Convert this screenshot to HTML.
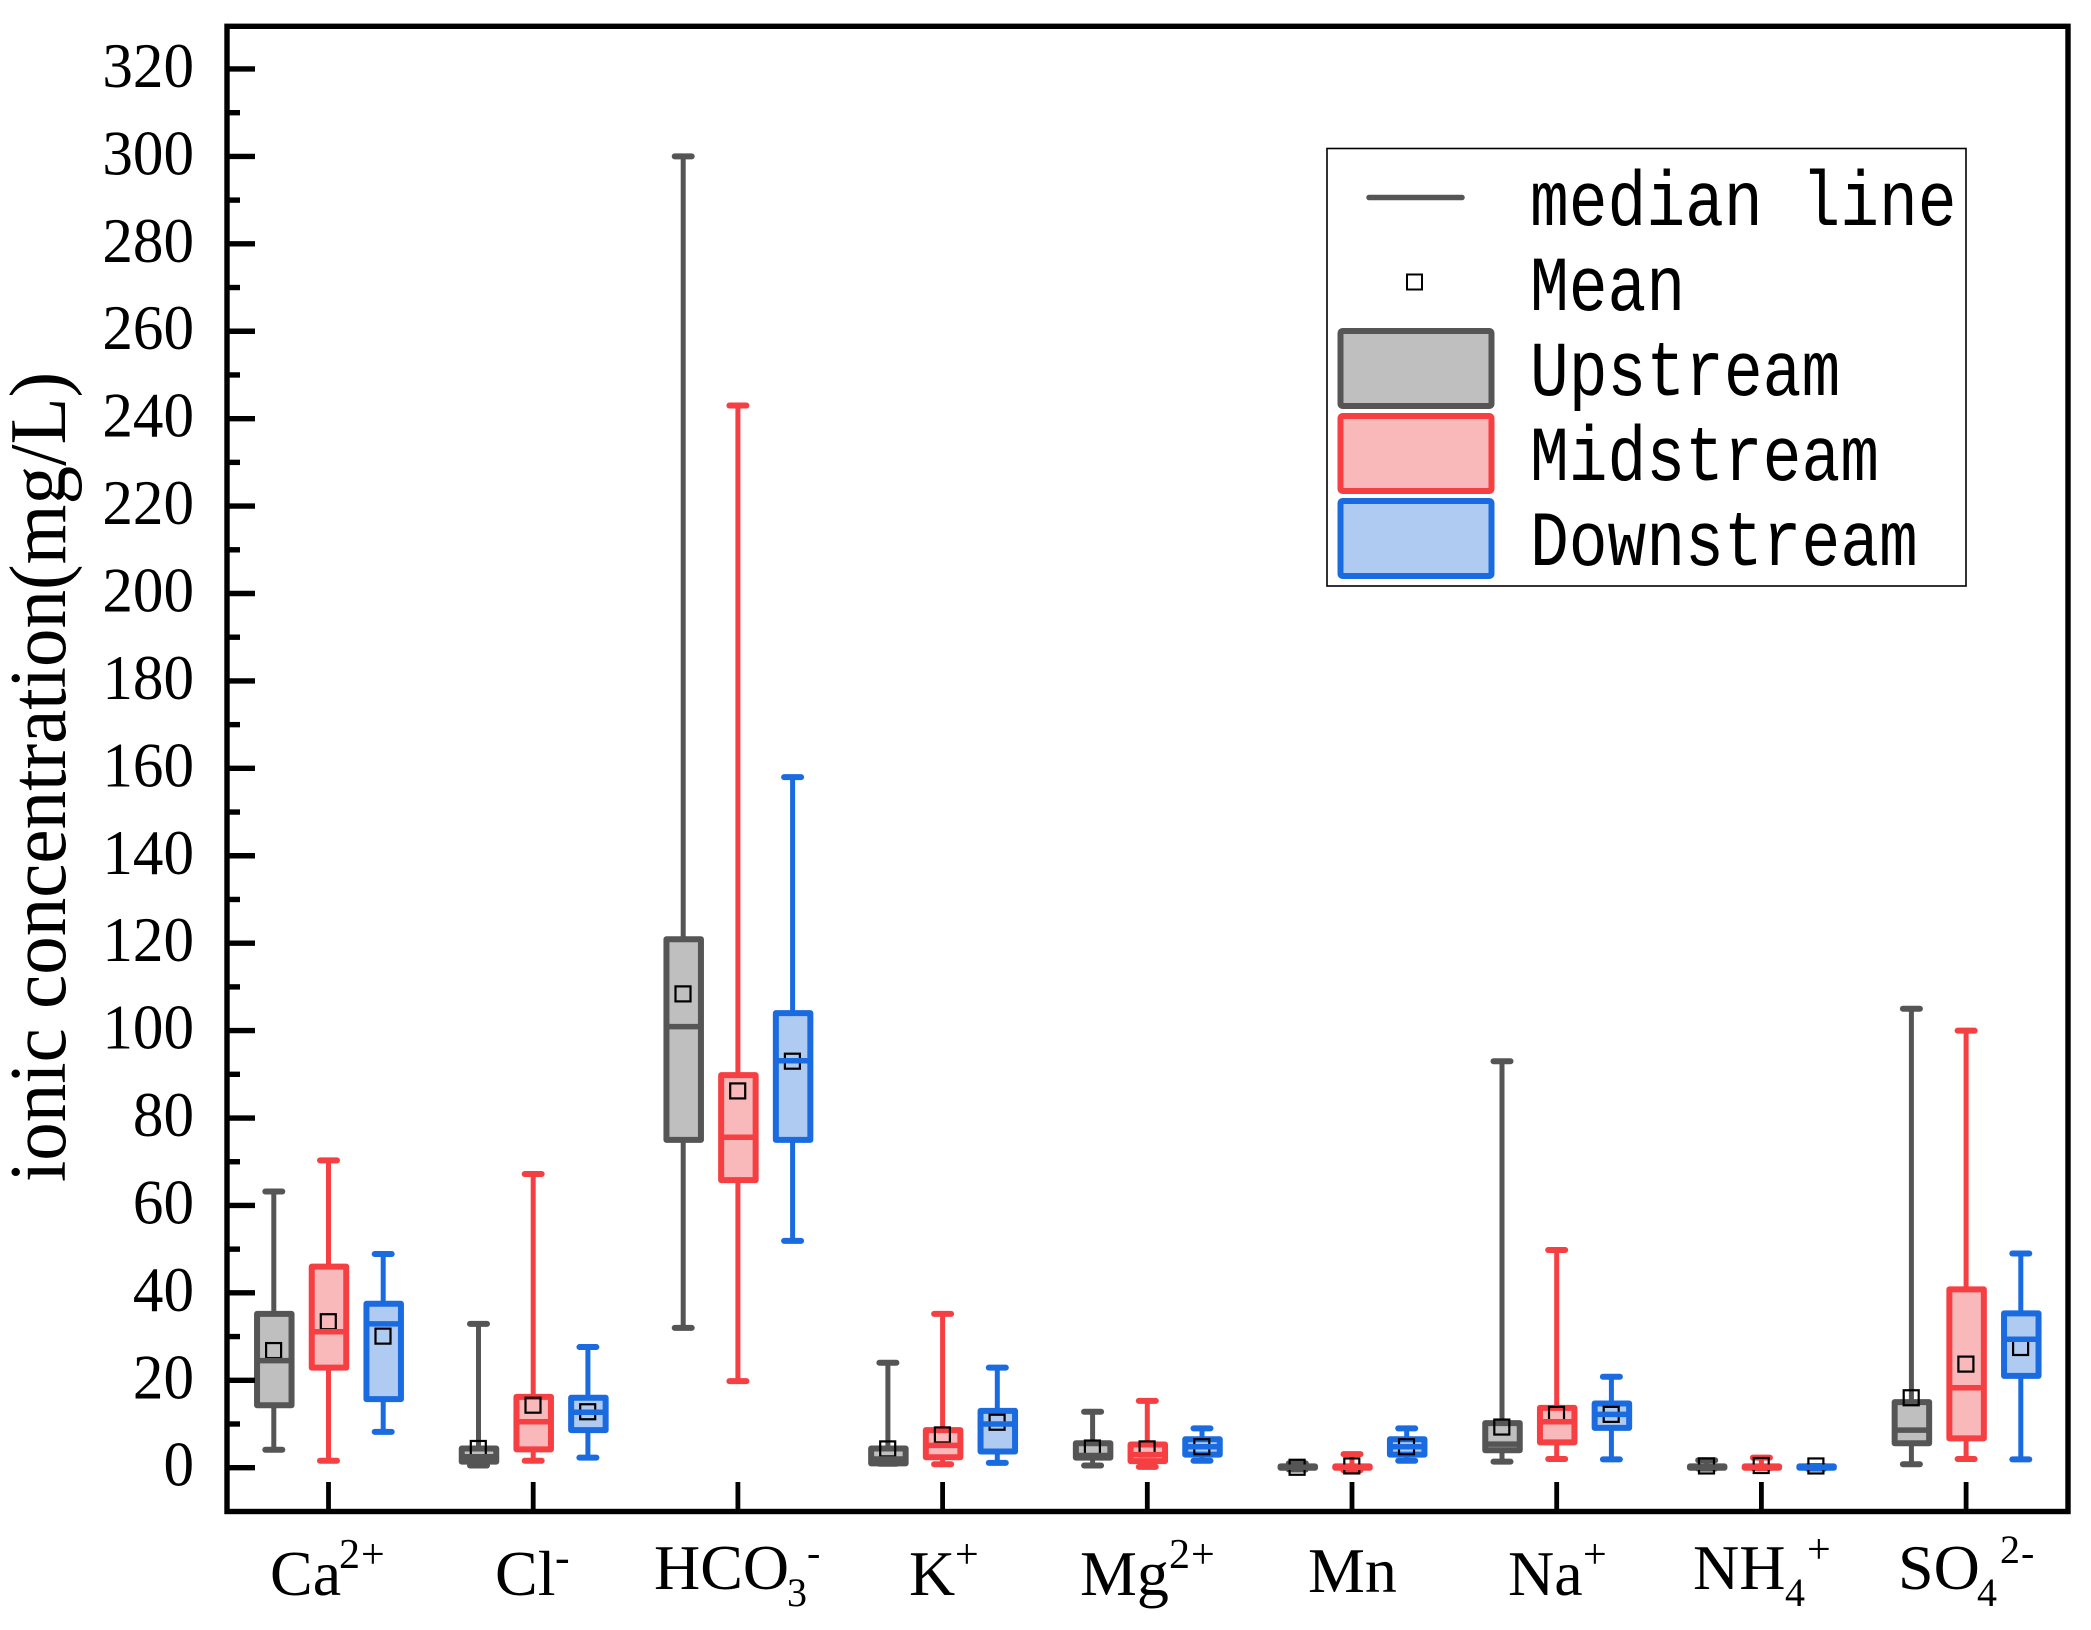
<!DOCTYPE html>
<html lang="en">
<head>
<meta charset="utf-8">
<title>Ionic concentration box plot</title>
<style>
html,body{margin:0;padding:0;background:#fff;}
svg{display:block;}
text{fill:#000;}
.serif{font-family:"Liberation Serif","Noto Serif CJK SC",serif;}
.mono{font-family:"Liberation Mono","DejaVu Sans Mono",monospace;font-size:64px;}
</style>
</head>
<body>
<svg id="chart" xmlns="http://www.w3.org/2000/svg" width="2091" height="1630" viewBox="0 0 2091 1630">
  <rect x="0" y="0" width="2091" height="1630" fill="#fff"/>
  <g id="marks"></g>
  <g id="axes"></g>
  <rect x="227" y="26.3" width="1841" height="1485.2" fill="none" stroke="#000" stroke-width="5.4"/>
  <text class="serif" font-size="77" text-anchor="middle" transform="translate(65,777) rotate(-90) scale(1,1.05)">ionic concentration(mg/L)</text>

  <g class="serif" font-size="64">
    <text><tspan x="270" y="1595">Ca</tspan><tspan x="339" y="1568" font-size="42">2</tspan><tspan x="361" y="1568" font-size="42">+</tspan></text>
    <text><tspan x="495" y="1595">Cl</tspan><tspan x="555" y="1572" font-size="44">-</tspan></text>
    <text><tspan x="654" y="1589">HCO</tspan><tspan x="787" y="1606" font-size="40">3</tspan><tspan x="807" y="1566" font-size="40">-</tspan></text>
    <text><tspan x="909" y="1595">K</tspan><tspan x="955" y="1568" font-size="42">+</tspan></text>
    <text><tspan x="1080" y="1595">Mg</tspan><tspan x="1169" y="1568" font-size="42">2</tspan><tspan x="1191" y="1568" font-size="42">+</tspan></text>
    <text><tspan x="1308" y="1592">Mn</tspan></text>
    <text><tspan x="1508" y="1595">Na</tspan><tspan x="1583" y="1568" font-size="42">+</tspan></text>
    <text><tspan x="1693" y="1589">NH</tspan><tspan x="1785" y="1606" font-size="40">4</tspan><tspan x="1807" y="1563" font-size="42">+</tspan></text>
    <text><tspan x="1898" y="1589">SO</tspan><tspan x="1977" y="1606" font-size="40">4</tspan><tspan x="2000" y="1563" font-size="40">2</tspan><tspan x="2021" y="1566" font-size="40">-</tspan></text>
  </g>

  <g>
    <rect x="1327" y="148.5" width="639" height="437.5" fill="#fff" stroke="#000" stroke-width="1.6"/>
    <line x1="1369" y1="197.5" x2="1462" y2="197.5" stroke="#555" stroke-width="5.5" stroke-linecap="round"/>
    <rect x="1407" y="274.5" width="15" height="15" fill="none" stroke="#000" stroke-width="2"/>
    <rect x="1340.5" y="331" width="151" height="75" rx="2" fill="#bfbfbf" stroke="#555" stroke-width="6" stroke-linejoin="round"/>
    <rect x="1340.5" y="416" width="151" height="75" rx="2" fill="#f9b8b9" stroke="#f63f42" stroke-width="6" stroke-linejoin="round"/>
    <rect x="1340.5" y="501" width="151" height="75" rx="2" fill="#afcbf1" stroke="#1b6be0" stroke-width="6" stroke-linejoin="round"/>
    <text class="mono" transform="translate(1530,225) scale(1.01,1.22)">median line</text>
    <text class="mono" transform="translate(1530,310) scale(1.01,1.22)">Mean</text>
    <text class="mono" transform="translate(1530,395) scale(1.01,1.22)">Upstream</text>
    <text class="mono" transform="translate(1530,480) scale(1.01,1.22)">Midstream</text>
    <text class="mono" transform="translate(1530,565) scale(1.01,1.22)">Downstream</text>
  </g>
</svg>

<script>
// ---- chart data (mg/L) ----
const categories = ["Ca", "Cl", "HCO3", "K", "Mg", "Mn", "Na", "NH4", "SO4"];
const seriesNames = ["upstream", "midstream", "downstream"];
const yTickLabels = [0, 20, 40, 60, 80, 100, 120, 140, 160, 180, 200, 220, 240, 260, 280, 300, 320];

const upstreamLow    = [4.1, 0.5, 32, 0.9, 0.5, -0.4, 1.4, -0.2, 0.8];
const upstreamQ1     = [14.3, 1.4, 75, 1.0, 2.3, 0, 4.0, 0, 5.6];
const upstreamMedian = [24.5, 2.5, 100.9, 2.0, 2.8, 0.1, 5.4, 0.1, 8.6];
const upstreamQ3     = [35.2, 4.4, 120.9, 4.4, 5.6, 0.3, 10.2, 0.3, 15];
const upstreamHigh   = [63.2, 32.9, 300, 24, 12.8, 1, 93, 1.7, 105];
const upstreamMean   = [26.8, 4.4, 108.4, 4.3, 4.5, 0.1, 9.3, 0.4, 16];

const midstreamLow    = [1.6, 1.6, 19.8, 0.8, 0.2, -0.6, 2, -0.1, 2];
const midstreamQ1     = [22.9, 4.2, 65.8, 2.4, 1.5, 0, 5.8, 0, 6.7];
const midstreamMedian = [31.1, 10.5, 75.6, 5.1, 3, 0.1, 10.5, 0.1, 18.3];
const midstreamQ3     = [46, 16.2, 89.8, 8.6, 5.3, 0.3, 13.7, 0.3, 40.8];
const midstreamHigh   = [70.3, 67.2, 243, 35.2, 15.3, 3.1, 49.8, 2.3, 100];
const midstreamMean   = [33.4, 14.3, 86.2, 7.5, 4.3, 0.4, 12.2, 0.5, 23.7];

const downstreamLow    = [8.2, 2.3, 51.9, 1.1, 1.6, 1.6, 1.9, -0.2, 1.9];
const downstreamQ1     = [15.7, 8.6, 75, 3.7, 3, 3, 9.1, 0, 21];
const downstreamMedian = [32.9, 12.7, 93.1, 10, 4.8, 4.8, 12.2, 0.1, 29.4];
const downstreamQ3     = [37.5, 16, 104, 13, 6.5, 6.5, 14.7, 0.3, 35.3];
const downstreamHigh   = [48.9, 27.6, 158, 22.9, 9, 9, 20.8, 0.4, 49];
const downstreamMean   = [30.1, 12.8, 93, 10.4, 4.8, 4.8, 12.2, 0.4, 27.5];

const lows    = [upstreamLow, midstreamLow, downstreamLow];
const q1s     = [upstreamQ1, midstreamQ1, downstreamQ1];
const medians = [upstreamMedian, midstreamMedian, downstreamMedian];
const q3s     = [upstreamQ3, midstreamQ3, downstreamQ3];
const highs   = [upstreamHigh, midstreamHigh, downstreamHigh];
const means   = [upstreamMean, midstreamMean, downstreamMean];

const strokeColors = ["#555555", "#f63f42", "#1b6be0"];
const fillColors   = ["#bfbfbf", "#f9b8b9", "#afcbf1"];

// ---- axis functions ----
function yScale(v) { return 1467.7 - 4.371 * v; }
function xCenter(i) { return 328.5 + 204.7 * i; }
function xBox(i, s) { return xCenter(i) + (s - 1) * 54.7; }

const NS = "http://www.w3.org/2000/svg";
const marks = document.getElementById("marks");
const axes = document.getElementById("axes");

function make(tag, attrs, parent) {
  const el = document.createElementNS(NS, tag);
  for (const k in attrs) el.setAttribute(k, attrs[k]);
  parent.appendChild(el);
  return el;
}

// ---- y axis ticks ----
yTickLabels.forEach(function (t, idx) {
  const y = yScale(t);
  const tick = make("line", {x1: 227, x2: 255, y1: y, y2: y, stroke: "#000", "stroke-width": 5.4}, axes);
  
  
  const label = make("text", {"text-anchor": "end", "font-size": 64, class: "serif", transform: "translate(194," + (y + 18) + ") scale(0.955,1)"}, axes);
  
  
  label.textContent = String(t);
  if (idx < yTickLabels.length - 1) {
    const ym = yScale((t + yTickLabels[idx + 1]) / 2);
    const minor = make("line", {x1: 227, x2: 240, y1: ym, y2: ym, stroke: "#000", "stroke-width": 5.4}, axes);
    
    
  }
});

// ---- x axis ticks ----
categories.forEach(function (c, i) {
  const x = xCenter(i);
  const tick = make("line", {x1: x, x2: x, y1: 1482, y2: 1511, stroke: "#000", "stroke-width": 4.8}, axes);
  
  
});

// ---- boxes ----
const BOX_W = 34.5;
const CAP_W = 17;
categories.forEach(function (c, i) {
  seriesNames.forEach(function (name, s) {
    const x = xBox(i, s);
    const col = strokeColors[s];
    const group = make("g", {}, marks);
    
    

    const yLow = yScale(lows[s][i]);
    const yHigh = yScale(highs[s][i]);
    const yQ1 = yScale(q1s[s][i]);
    const yQ3 = yScale(q3s[s][i]);
    const yMed = yScale(medians[s][i]);
    const yMean = yScale(means[s][i]);

    const whisker = make("line", {x1: x, x2: x, y1: yLow, y2: yHigh, stroke: col, "stroke-width": 5}, group);
    
    

    const capTop = make("line", {x1: x - CAP_W / 2, x2: x + CAP_W / 2, y1: yHigh, y2: yHigh, stroke: col, "stroke-width": 6, "stroke-linecap": "round"}, group);
    
    

    const capLow = make("line", {x1: x - CAP_W / 2, x2: x + CAP_W / 2, y1: yLow, y2: yLow, stroke: col, "stroke-width": 6, "stroke-linecap": "round"}, group);
    
    

    const box = make("rect", {x: x - BOX_W / 2 + 0.5, y: yQ3, width: BOX_W, height: Math.max(yQ1 - yQ3, 0.1), fill: fillColors[s], stroke: col, "stroke-width": 6, "stroke-linejoin": "round"}, group);
    
    

    const meanMark = make("rect", {x: x - 7.7, y: yMean - 7.5, width: 15, height: 15, fill: "none", stroke: "#000", "stroke-width": 2.2}, group);
    
    

    const med = make("line", {x1: x - BOX_W / 2 + 0.5, x2: x + BOX_W / 2 + 0.5, y1: yMed, y2: yMed, stroke: col, "stroke-width": 5.5}, group);
    
    
  });
});
</script>
</body>
</html>
